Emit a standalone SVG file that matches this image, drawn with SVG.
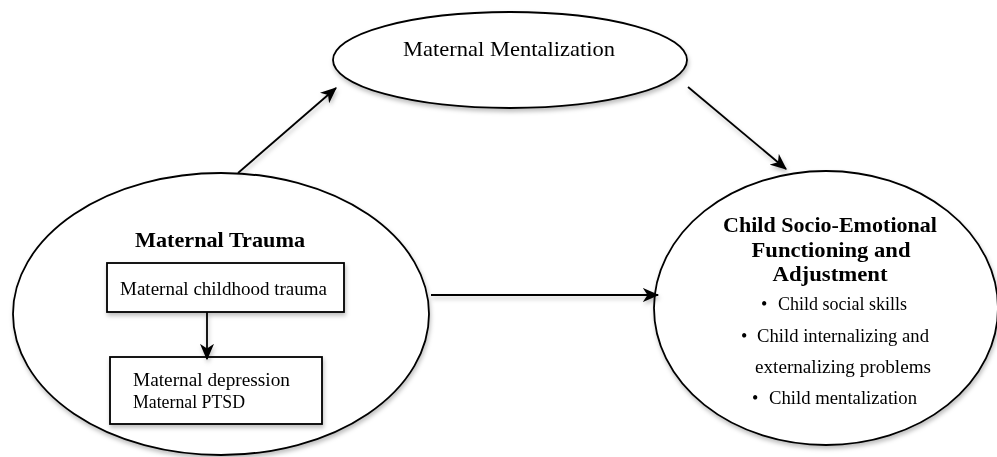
<svg xmlns="http://www.w3.org/2000/svg" width="997" height="457" viewBox="0 0 997 457">
<style>
.shape{fill:#fff;stroke:#000;stroke-width:1.8}
.t{font-family:"Liberation Serif","Times New Roman",serif;fill:#000}
.b{font-weight:bold}
.edge{stroke:#000;stroke-width:1.8;fill:none}
</style>
<defs>
<filter id="sh" x="-10%" y="-10%" width="120%" height="130%">
<feDropShadow dx="1" dy="3" stdDeviation="2" flood-color="#000" flood-opacity="0.25"/>
</filter>
<marker id="ah" viewBox="0 0 14 12" refX="13" refY="6" markerWidth="17" markerHeight="14" markerUnits="userSpaceOnUse" orient="auto">
<path d="M0,0 L14,6 L0,12 L4,6 z" fill="#000"/>
</marker>
</defs>
<rect width="997" height="457" fill="#fff"/>
<g id="node-mentalization" filter="url(#sh)">
<ellipse class="shape" cx="510" cy="60" rx="177" ry="48"/>
<text class="t" x="509" y="56" font-size="21" text-anchor="middle" textLength="212" lengthAdjust="spacingAndGlyphs">Maternal Mentalization</text>
</g>
<g id="node-trauma" filter="url(#sh)">
<ellipse class="shape" cx="221" cy="314" rx="208" ry="141"/>
<text class="t b" x="220" y="247" font-size="21" text-anchor="middle" textLength="170" lengthAdjust="spacingAndGlyphs">Maternal Trauma</text>
</g>
<g id="node-childhood" filter="url(#sh)">
<rect class="shape" x="107" y="263" width="237" height="49"/>
<text class="t" x="120" y="295" font-size="19" textLength="207" lengthAdjust="spacingAndGlyphs">Maternal childhood trauma</text>
</g>
<g id="node-depression" filter="url(#sh)">
<rect class="shape" x="110" y="357" width="212" height="67"/>
<text class="t" x="133" y="386" font-size="19" textLength="157" lengthAdjust="spacingAndGlyphs">Maternal depression</text>
<text class="t" x="133" y="408" font-size="19" textLength="112" lengthAdjust="spacingAndGlyphs">Maternal PTSD</text>
</g>
<g id="node-child" filter="url(#sh)">
<ellipse class="shape" cx="826" cy="308" rx="172" ry="137"/>
<text class="t b" x="830" y="232" font-size="22" text-anchor="middle" textLength="214" lengthAdjust="spacingAndGlyphs">Child Socio-Emotional</text>
<text class="t b" x="831" y="257" font-size="22" text-anchor="middle" textLength="159" lengthAdjust="spacingAndGlyphs">Functioning and</text>
<text class="t b" x="830" y="281" font-size="22" text-anchor="middle" textLength="115" lengthAdjust="spacingAndGlyphs">Adjustment</text>
<text class="t" x="761" y="310" font-size="18">•</text>
<text class="t" x="778" y="310" font-size="18" textLength="129" lengthAdjust="spacingAndGlyphs">Child social skills</text>
<text class="t" x="741" y="342" font-size="18">•</text>
<text class="t" x="757" y="342" font-size="18" textLength="172" lengthAdjust="spacingAndGlyphs">Child internalizing and</text>
<text class="t" x="755" y="373" font-size="18" textLength="176" lengthAdjust="spacingAndGlyphs">externalizing problems</text>
<text class="t" x="752" y="404" font-size="18">•</text>
<text class="t" x="769" y="404" font-size="18" textLength="148" lengthAdjust="spacingAndGlyphs">Child mentalization</text>
</g>
<g id="connectors" filter="url(#sh)">
<line class="edge" x1="238" y1="173" x2="336" y2="88" marker-end="url(#ah)"/>
<line class="edge" x1="688" y1="87" x2="786" y2="169" marker-end="url(#ah)"/>
<line class="edge" x1="431" y1="295" x2="658" y2="295" marker-end="url(#ah)"/>
<line class="edge" x1="207" y1="312" x2="207" y2="359" marker-end="url(#ah)"/>
</g>
</svg>
